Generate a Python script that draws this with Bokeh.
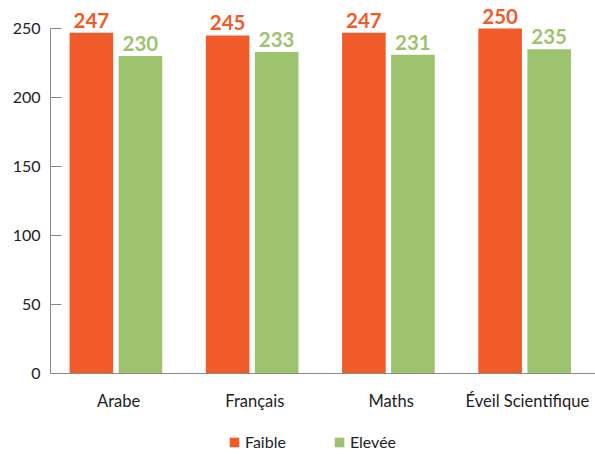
from bokeh.plotting import figure
from bokeh.layouts import column
from bokeh.models import ColumnDataSource, FactorRange, Legend, LegendItem, Range1d, FixedTicker
from bokeh.transform import dodge
from bokeh.core.properties import value
from bokeh.embed import file_html
from bokeh.resources import INLINE

categories = ["Arabe", "Français", "Maths", "Éveil Scientifique"]
faible = [247, 245, 247, 250]
elevee = [230, 233, 231, 235]
y_ticks = [0, 50, 100, 150, 200, 250]
series_names = ["Faible", "Elevée"]

ORANGE = "#F15A29"
GREEN = "#9DC36F"
FONT = "Lato"

src = ColumnDataSource(dict(
    cat=categories,
    faible=faible,
    elevee=elevee,
    faible_lbl=[str(v) for v in faible],
    elevee_lbl=[str(v) for v in elevee],
))

p = figure(
    x_range=FactorRange(*categories),
    y_range=Range1d(0, 270.3),
    width=595, height=430,
    output_backend="svg", toolbar_location=None,
    min_border_top=0, min_border_right=0, min_border_left=50, min_border_bottom=57,
)
p.outline_line_color = None
p.xgrid.grid_line_color = None
p.ygrid.grid_line_color = None

p.vbar(x=dodge("cat", -0.2, range=p.x_range), top="faible", width=0.32,
       source=src, fill_color=ORANGE, line_color=None)
p.vbar(x=dodge("cat", 0.16, range=p.x_range), top="elevee", width=0.32,
       source=src, fill_color=GREEN, line_color=None)

p.text(x=dodge("cat", -0.2, range=p.x_range), y="faible", text="faible_lbl", source=src,
       text_align="center", text_baseline="bottom", y_offset=-5,
       text_font=value(FONT), text_font_style="bold", text_font_size="20.5px", text_color=ORANGE)
p.text(x=dodge("cat", 0.16, range=p.x_range), y="elevee", text="elevee_lbl", source=src,
       text_align="center", text_baseline="bottom", y_offset=-5,
       text_font=value(FONT), text_font_style="bold", text_font_size="20.5px", text_color=GREEN)

# y axis
p.yaxis.ticker = FixedTicker(ticks=y_ticks)
p.yaxis.bounds = (0, 250)
p.yaxis.axis_line_color = "#8a8a8a"
p.yaxis.major_tick_line_color = "#8a8a8a"
p.yaxis.major_tick_in = 11
p.yaxis.major_tick_out = 0
p.yaxis.minor_tick_line_color = None
p.yaxis.major_label_text_font = FONT
p.yaxis.major_label_text_font_size = "16px"
p.yaxis.major_label_text_color = "#222222"
p.yaxis.major_label_standoff = 10

# x axis
p.xaxis.axis_line_color = "#8a8a8a"
p.xaxis.major_tick_line_color = None
p.xaxis.minor_tick_line_color = None
p.xaxis.major_label_text_font = FONT
p.xaxis.major_label_text_font_size = "16.5px"
p.xaxis.major_label_text_color = "#222222"
p.xaxis.major_label_standoff = 11

# legend strip below the chart (swatch glyphs sit outside its visible range)
lg = figure(width=595, height=24, output_backend="svg", toolbar_location=None,
            x_range=Range1d(0, 1), y_range=Range1d(0, 1),
            x_axis_location=None, y_axis_location=None,
            min_border_top=0, min_border_bottom=0, min_border_left=50, min_border_right=0)
lg.outline_line_color = None
lg.xgrid.grid_line_color = None
lg.ygrid.grid_line_color = None
swatch = ColumnDataSource(dict(x=[-10], top=[-10]))
l1 = lg.vbar(x="x", top="top", width=1, source=swatch, fill_color=ORANGE, line_color=None)
l2 = lg.vbar(x="x", top="top", width=1, source=swatch, fill_color=GREEN, line_color=None)

legend = Legend(
    items=[LegendItem(label=series_names[0], renderers=[l1]),
           LegendItem(label=series_names[1], renderers=[l2])],
    orientation="horizontal",
    location=(178, 3),
    glyph_width=12, glyph_height=12,
    label_standoff=5, spacing=47,
    padding=0, margin=0,
    border_line_color=None, background_fill_alpha=0,
    label_text_font=FONT, label_text_font_size="16px", label_text_color="#222222",
    label_height=16,
)
lg.add_layout(legend, "center")

layout = column(p, lg, spacing=0)
open("out.html", "w").write(file_html(layout, INLINE))
